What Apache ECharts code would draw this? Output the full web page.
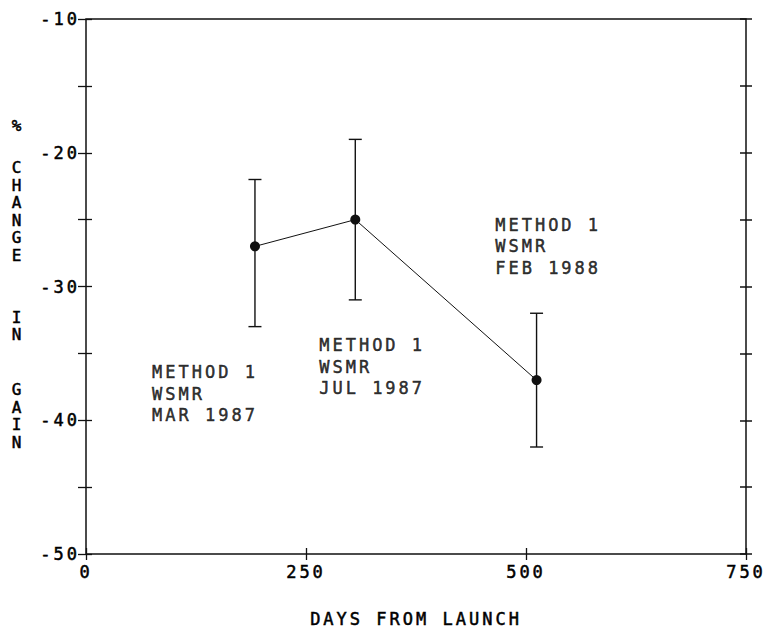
<!DOCTYPE html>
<html>
<head>
<meta charset="utf-8">
<script src="https://cdn.jsdelivr.net/npm/echarts@6/dist/echarts.min.js"></script>
<style>
  html, body { margin: 0; padding: 0; background: #fff; }
  #chart { width: 768px; height: 628px; }
  /* plotter-style lettering: wide monospaced characters */
  #chart svg text { letter-spacing: 3px; }
</style>
</head>
<body>
<div id="chart"></div>
<script>
// Gain change measurements (days after launch, % change, error-bar limits)
const days = [192, 306, 512];
const gainChange = [-27, -25, -37];
const errLow = [-33, -31, -42];
const errHigh = [-22, -19, -32];

// Campaign notes, anchored in data coordinates
const noteDays = [75, 265, 465];
const noteGain = [-38, -36, -27];
const noteText = [
  'METHOD 1\nWSMR\nMAR 1987',
  'METHOD 1\nWSMR\nJUL 1987',
  'METHOD 1\nWSMR\nFEB 1988'
];

// Axis titles: the y title is lettered vertically, one word per stack
const xTitle = 'DAYS FROM LAUNCH';
const yTitleWords = ['%', 'CHANGE', 'IN', 'GAIN'];
const yTitleCenters = [125, 211.25, 325.75, 416];

const FONT = '"DejaVu Sans Mono", "Liberation Mono", monospace';
const INK = '#111';
const TEXT = '#000';
const PEN = 0.5;          // slight outline so the lettering reads like plotter ink
const TICK = 12;          // ticks cross the frame: half inside, half outside
const SHIFT = -TICK / 2;

const textInk = { color: TEXT, fontFamily: FONT, fontSize: 17, textBorderColor: TEXT, textBorderWidth: PEN };

const chart = echarts.init(document.getElementById('chart'), null, { renderer: 'svg' });

const option = {
  animation: false,
  backgroundColor: '#fff',
  grid: {
    left: 86, right: 22, top: 19, bottom: 74, containLabel: false,
    outerBoundsMode: 'none',
    show: true, borderColor: INK, borderWidth: 1.5, backgroundColor: 'transparent'
  },
  xAxis: [{
    type: 'value', min: 0, max: 750, interval: 250,
    position: 'bottom', offset: SHIFT,
    splitLine: { show: false },
    axisLine: { show: false },
    axisTick: { show: true, inside: false, length: TICK, lineStyle: { color: INK, width: 1.3 } },
    axisLabel: Object.assign({ show: true, margin: 15 }, textInk),
    name: xTitle, nameLocation: 'middle', nameGap: 62,
    nameTextStyle: Object.assign({}, textInk)
  }],
  yAxis: [
    {
      type: 'value', min: -50, max: -10, interval: 5,
      position: 'left', offset: SHIFT,
      splitLine: { show: false },
      axisLine: { show: false },
      axisTick: { show: true, inside: false, length: TICK + 2, lineStyle: { color: INK, width: 1.3 } },
      axisLabel: Object.assign({
        show: true, margin: 12,
        formatter: function (v) { return v % 10 === 0 ? String(v) : ''; }
      }, textInk)
    },
    {
      type: 'value', min: -50, max: -10, interval: 5,
      position: 'right', offset: SHIFT,
      splitLine: { show: false },
      axisLine: { show: false },
      axisTick: { show: true, inside: false, length: TICK, lineStyle: { color: INK, width: 1.5 } },
      axisLabel: { show: false }
    }
  ],
  graphic: yTitleWords.map(function (word, i) {
    return {
      type: 'text',
      x: 18, y: yTitleCenters[i],
      style: {
        text: word.split('').join('\n'), fill: TEXT, stroke: TEXT, lineWidth: PEN,
        font: '16px ' + FONT, lineHeight: 17.5,
        textAlign: 'center', textVerticalAlign: 'middle'
      }
    };
  }),
  series: [
    {
      // error bars with caps
      type: 'custom',
      xAxisIndex: 0, yAxisIndex: 0,
      data: days.map(function (d, i) { return [d, errLow[i], errHigh[i]]; }),
      renderItem: function (params, api) {
        const lo = api.coord([api.value(0), api.value(1)]);
        const hi = api.coord([api.value(0), api.value(2)]);
        const half = 6.5;
        const st = { stroke: INK, lineWidth: 1.4 };
        return {
          type: 'group',
          children: [
            { type: 'line', shape: { x1: lo[0], y1: lo[1], x2: hi[0], y2: hi[1] }, style: st },
            { type: 'line', shape: { x1: lo[0] - half, y1: lo[1], x2: lo[0] + half, y2: lo[1] }, style: st },
            { type: 'line', shape: { x1: hi[0] - half, y1: hi[1], x2: hi[0] + half, y2: hi[1] }, style: st }
          ]
        };
      },
      z: 2
    },
    {
      type: 'line',
      xAxisIndex: 0, yAxisIndex: 0,
      data: days.map(function (d, i) { return [d, gainChange[i]]; }),
      symbol: 'circle', symbolSize: 10,
      itemStyle: { color: INK },
      lineStyle: { color: INK, width: 1 },
      z: 3
    },
    {
      type: 'scatter',
      xAxisIndex: 0, yAxisIndex: 0,
      data: noteDays.map(function (d, i) { return { value: [d, noteGain[i]], label: { formatter: noteText[i] } }; }),
      symbolSize: 0,
      silent: true,
      label: Object.assign({
        show: true, position: 'right', distance: 0,
        align: 'left', verticalAlign: 'middle', lineHeight: 21.5
      }, textInk),
      z: 4
    }
  ]
};

chart.setOption(option);
</script>
</body>
</html>
